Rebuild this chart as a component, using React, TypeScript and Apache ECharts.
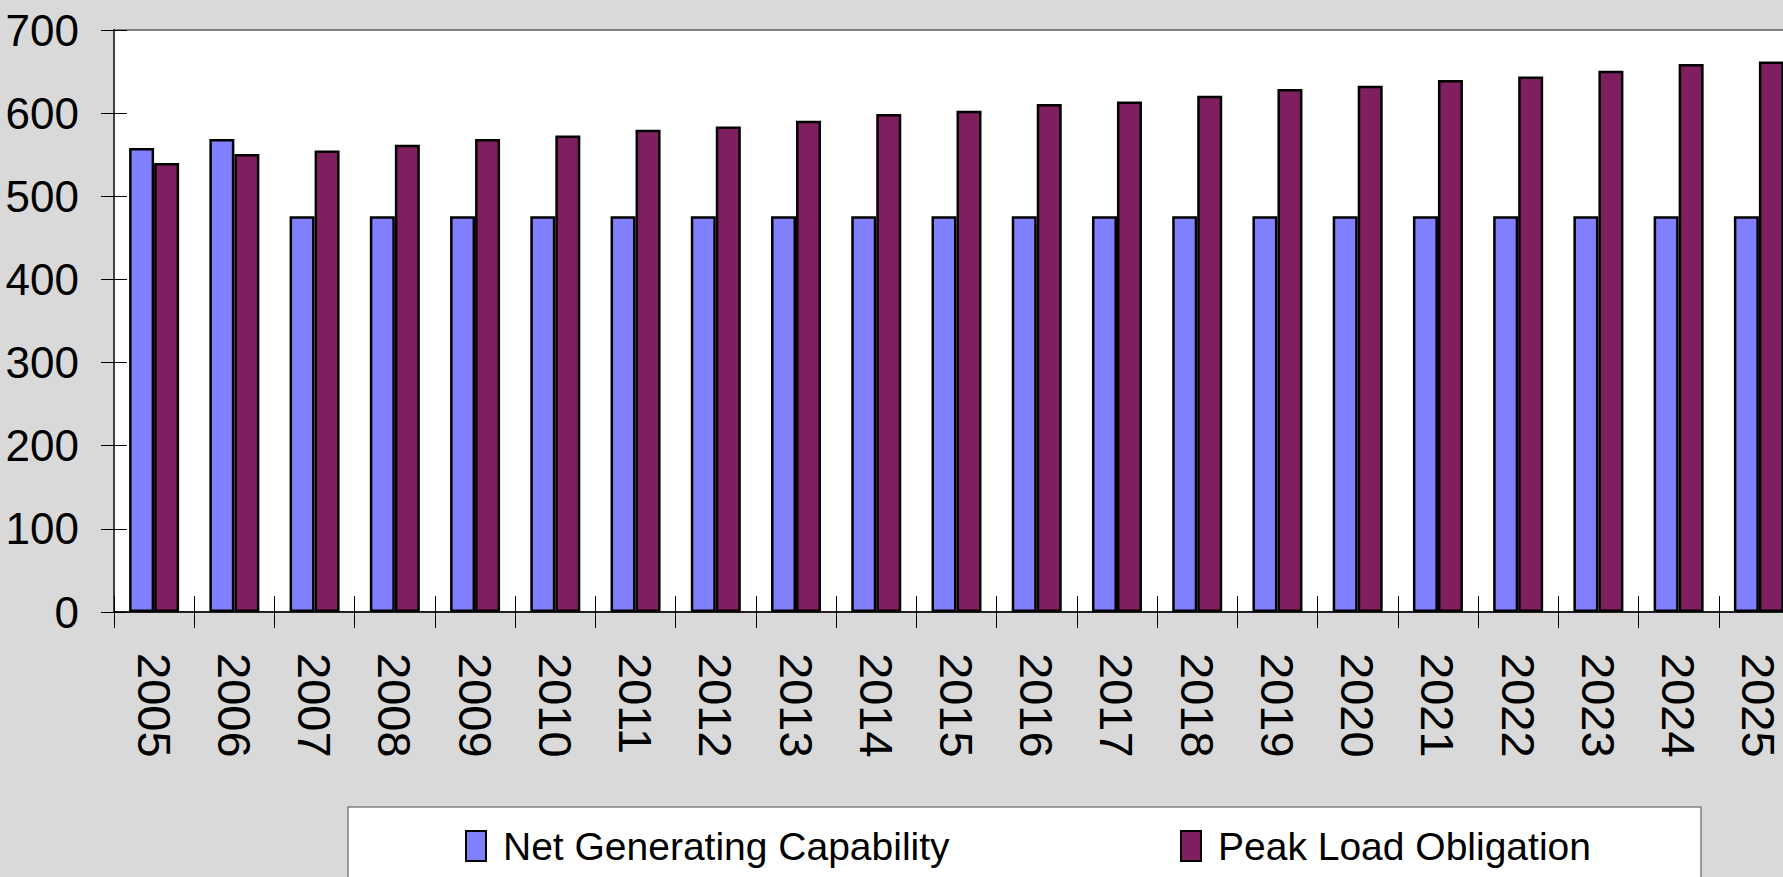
import React, { useEffect, useRef } from "react";
import * as echarts from "echarts";

const years = [
  "2005", "2006", "2007", "2008", "2009", "2010", "2011", "2012", "2013", "2014", "2015",
  "2016", "2017", "2018", "2019", "2020", "2021", "2022", "2023", "2024", "2025",
];
const netGenerating = [
  558, 569, 476, 476, 476, 476, 476, 476, 476, 476, 476,
  476, 476, 476, 476, 476, 476, 476, 476, 476, 476,
];
const peakLoad = [
  540, 551, 555, 562, 569, 573, 580, 584, 591, 599, 603,
  611, 614, 621, 629, 633, 640, 644, 651, 659, 662,
];
const seriesNames = ["Net Generating Capability", "Peak Load Obligation"];
const seriesColors = ["#8080ff", "#7f1f5f"];
const yMin = 0;
const yMax = 700;
const yStep = 100;

export default function App() {
  const ref = useRef<HTMLDivElement>(null);
  useEffect(() => {
    if (!ref.current) return;
    document.body.style.overflow = "hidden";
    const chart = echarts.init(ref.current, null, { renderer: "svg" });
    const sans = "'Liberation Sans', Arial, sans-serif";
    const legendText = {
      fontFamily: sans,
      fontSize: 39,
      color: "#000",
      lineHeight: 40,
      padding: [0, 0, 0, 12],
    };
    chart.setOption({
      animation: false,
      backgroundColor: "#d9d9d9",
      grid: {
        left: 114,
        top: 30,
        right: 21,
        bottom: 265,
        show: true,
        backgroundColor: "#ffffff",
        borderColor: "#808080",
        borderWidth: 2,
      },
      graphic: [
        {
          type: "rect",
          z: 0,
          shape: { x: 348, y: 807, width: 1353, height: 120 },
          style: { fill: "#ffffff", stroke: "#808080", lineWidth: 1.5 },
        },
      ],
      legend: [
        {
          data: [seriesNames[0]],
          left: 465,
          top: 826,
          padding: 0,
          z: 10,
          itemWidth: 20,
          itemHeight: 30,
          icon: "rect",
          textStyle: legendText,
        },
        {
          data: [seriesNames[1]],
          left: 1180,
          top: 826,
          padding: 0,
          z: 10,
          itemWidth: 20,
          itemHeight: 30,
          icon: "rect",
          textStyle: legendText,
        },
      ],
      xAxis: [
        {
          type: "category",
          data: years,
          boundaryGap: true,
          axisLine: { show: true, lineStyle: { color: "#000", width: 1.5 } },
          axisTick: { show: true, inside: false, length: 16, interval: 0, lineStyle: { color: "#000", width: 1 } },
          axisLabel: {
            interval: 0,
            rotate: -90,
            margin: 41,
            fontFamily: sans,
            fontSize: 47,
            color: "#000",
            padding: [18, 0, 0, 0],
          },
          splitLine: { show: false },
        },
        {
          type: "category",
          data: years,
          position: "bottom",
          boundaryGap: true,
          axisLine: { show: false },
          axisTick: { show: true, inside: true, length: 16, interval: 0, lineStyle: { color: "#000", width: 1 } },
          axisLabel: { show: false },
          splitLine: { show: false },
        },
      ],
      yAxis: [
        {
          type: "value",
          min: yMin,
          max: yMax,
          interval: yStep,
          position: "left",
          axisLine: { show: true, lineStyle: { color: "#404040", width: 2 } },
          axisTick: { show: true, inside: false, length: 13, lineStyle: { color: "#000", width: 1 } },
          axisLabel: { margin: 35, fontFamily: sans, fontSize: 44, color: "#000" },
          splitLine: { show: false },
        },
        {
          type: "value",
          min: yMin,
          max: yMax,
          interval: yStep,
          position: "left",
          axisLine: { show: false },
          axisTick: { show: true, inside: true, length: 13, lineStyle: { color: "#000", width: 1 } },
          axisLabel: { show: false },
          splitLine: { show: false },
        },
      ],
      series: [
        {
          name: seriesNames[0],
          type: "bar",
          data: netGenerating,
          barWidth: 25,
          barGap: "0%",
          itemStyle: { color: seriesColors[0], borderColor: "#000", borderWidth: 2.5 },
        },
        {
          name: seriesNames[1],
          type: "bar",
          data: peakLoad,
          barWidth: 25,
          barGap: "0%",
          itemStyle: { color: seriesColors[1], borderColor: "#000", borderWidth: 2.5 },
        },
      ],
    });
    return () => chart.dispose();
  }, []);
  return (
    <div
      ref={ref}
      style={{ position: "fixed", left: 0, top: 0, width: 1820, height: 877 }}
    />
  );
}
